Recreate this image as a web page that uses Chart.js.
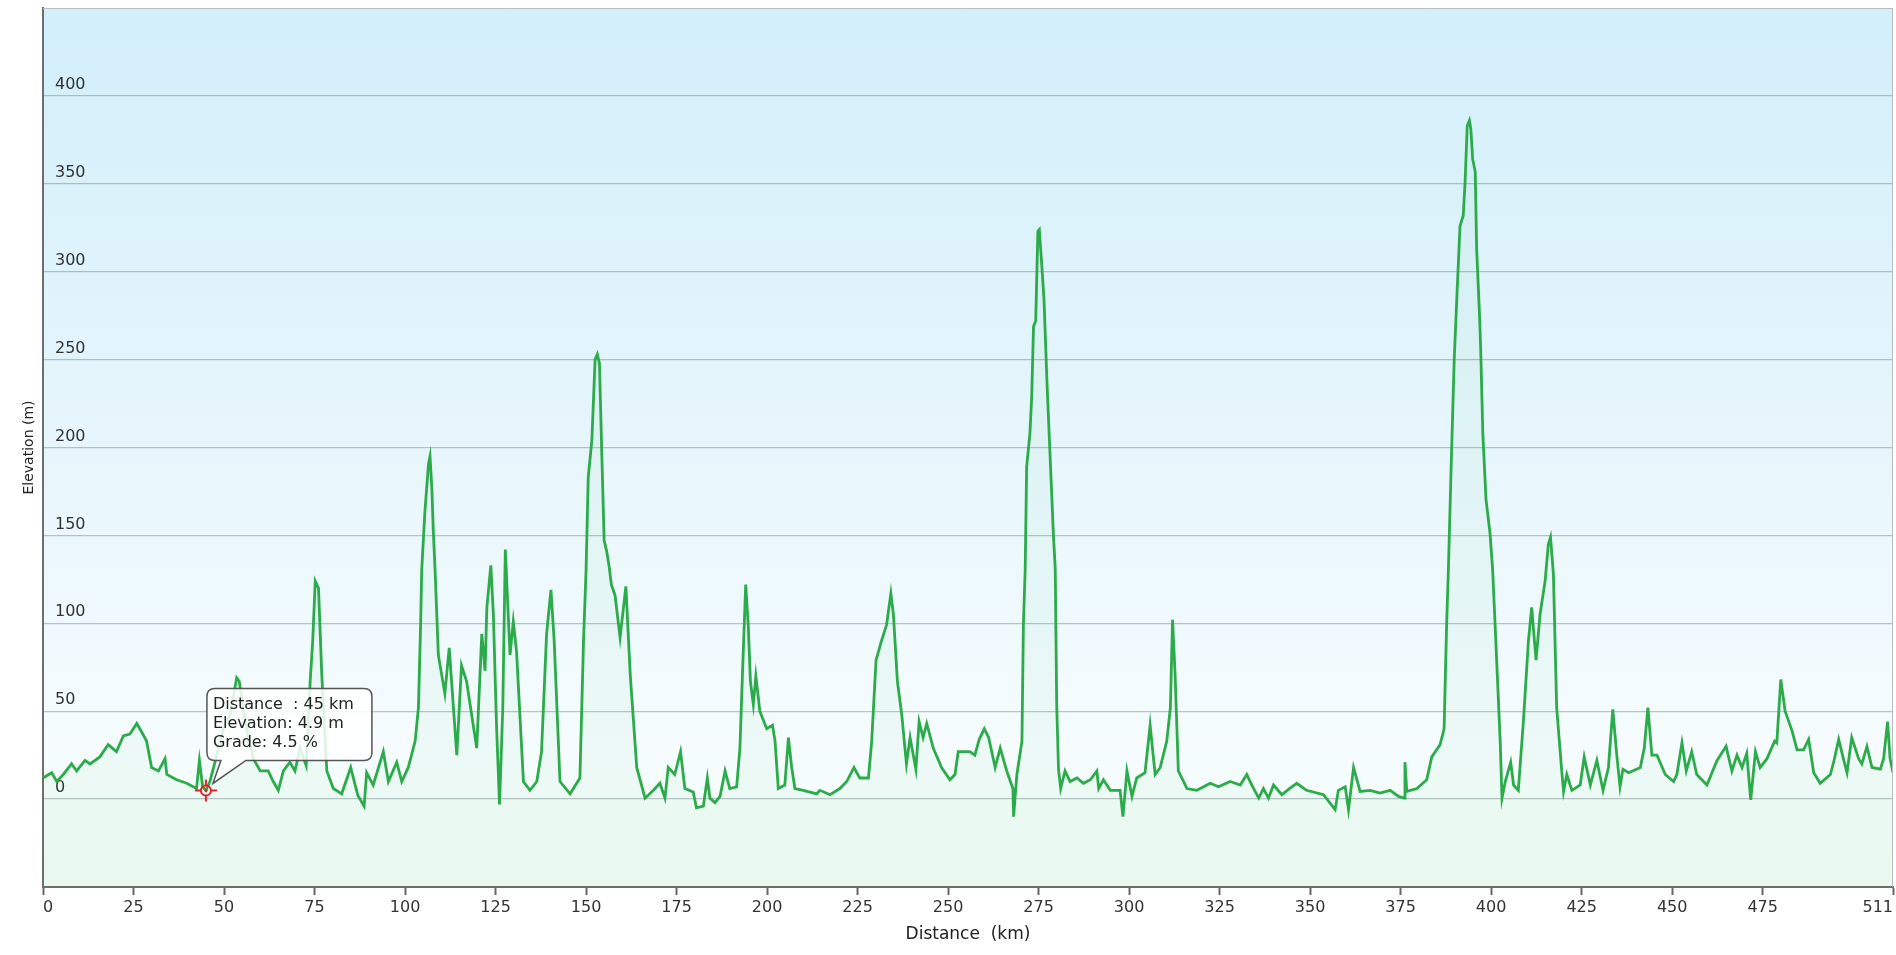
<!DOCTYPE html>
<html>
<head>
<meta charset="utf-8">
<title>Elevation profile</title>
<script src="https://cdn.jsdelivr.net/npm/chart.js@4.4.1/dist/chart.umd.min.js"></script>
<style>
  html, body { margin: 0; padding: 0; background: #fff; }
  canvas { display: block; }
</style>
</head>
<body>
<canvas id="profile" width="1896" height="955"></canvas>
<script>
// distance along the route (km) and elevation (m)
var distanceKm = [
  0, 2.4, 3.8, 5.6, 7.9, 9.3, 11.6, 13, 15.7, 18, 20.3, 22.2, 24, 25.9, 27.3, 28.6, 30, 31.9, 33.7, 34.2,
  36.9, 39.7, 42.4, 43.2, 44.1, 45, 46.1, 48, 49.8, 51.7, 53.5, 54.2, 56.3, 58.1, 60, 62.2, 63.6, 65, 66.4, 68.2,
  69.6, 71, 72.7, 73.8, 74.5, 75.2, 76.1, 77, 78.4, 80.2, 82.5, 85, 86.6, 87, 88.7, 89.4, 91.2, 94, 95.4, 97.7,
  99.1, 100.9, 102.8, 103.7, 104.3, 104.6, 105.5, 106.5, 106.9, 107.4, 107.8, 108.3, 109.2, 111, 112.2, 114.3, 115.6, 117, 118.4, 119.8,
  121.2, 122.1, 122.6, 123.7, 124.4, 125.3, 126.1, 127, 127.7, 129, 129.9, 130.8, 132.7, 134.5, 136.4, 137.7, 139.1, 140.3, 141.2, 142.8,
  145.6, 148.3, 149.3, 150, 150.6, 151.6, 152.5, 153.1, 153.7, 154.3, 155, 155.7, 156.4, 157, 158, 159.4, 161, 162.2, 164, 166.3,
  168.6, 170.4, 171.8, 172.7, 174.5, 176.1, 177.3, 179.6, 180.5, 182.4, 183.5, 184.2, 185.6, 187, 188.4, 189.7, 191.6, 192.5, 193.2, 194.1,
  194.8, 195.4, 196.2, 196.9, 198, 199.9, 201.5, 202.2, 203.1, 204.9, 205.9, 206.8, 207.7, 210, 213.7, 214.6, 217.4, 220.1, 222, 224,
  225.6, 228, 228.9, 230.1, 231.6, 233, 234.2, 234.9, 236, 237.2, 238.5, 239.5, 241.1, 242, 243.1, 244.1, 245.9, 248.2, 250.5, 251.9,
  252.8, 256, 257.4, 258.6, 260, 261.2, 263, 264.4, 266.2, 267.9, 268.1, 269, 270.4, 270.8, 271.3, 271.7, 272.6, 273.1, 273.6, 274.2,
  274.8, 275.2, 275.9, 276.5, 277.3, 278.2, 279.1, 279.6, 280, 280.5, 281.1, 282.3, 283.7, 285.6, 287.4, 289.3, 291.1, 291.6, 292.9, 294.8,
  297.5, 298.3, 299.4, 300.8, 302.1, 304.4, 305.8, 307.2, 308.6, 310.4, 311.4, 312, 312.7, 313.6, 316, 318.7, 320.6, 322.4, 324.7, 327.9,
  330.7, 332.5, 333.9, 335.8, 337.1, 338.5, 339.9, 342.2, 344.3, 346.3, 349, 353.7, 356.9, 357.8, 359.7, 360.6, 362, 363.8, 366.6, 369.3,
  372.1, 374.4, 376, 376.2, 376.7, 379.5, 382.2, 383.6, 385.9, 387, 387.7, 388.2, 389.1, 389.8, 390.5, 391.4, 392.3, 392.8, 393.4, 394,
  394.4, 394.9, 395.6, 396, 396.8, 397.1, 397.7, 398.6, 399.7, 400.4, 401.1, 402.5, 403, 403.9, 405.4, 406.2, 407.5, 408.9, 410.3, 411.2,
  412.4, 413.5, 414.9, 415.8, 416.4, 417.2, 418.1, 419.5, 420, 420.9, 422.3, 424.6, 425.7, 427.4, 429.2, 430.9, 432.4, 433.6, 434.7, 435.6,
  436.4, 438, 441.2, 442.3, 443.3, 444.4, 445.8, 448.1, 450.4, 451.3, 452.7, 453.9, 455.4, 456.8, 459.6, 462.4, 464.9, 466.5, 467.9, 469.3,
  470.6, 471.7, 473, 474.3, 476.2, 478.3, 478.9, 480, 481.2, 483.1, 484.5, 486.3, 487.7, 489.1, 490.9, 493.7, 494.6, 496, 497.3, 498.3,
  499.6, 501.5, 502.4, 503.8, 505.2, 507.5, 508.4, 509.5, 510.2, 511
];
var elevationM = [
  12, 15, 10, 14, 20, 16, 22, 20, 24, 31, 27, 36, 37, 43, 38, 33, 18, 16, 23, 14,
  11, 9, 6, 22, 7, 4.9, 10, 25, 40, 48, 69, 67, 39, 23, 16, 16, 10, 5, 16, 21,
  16, 29, 19, 67, 90, 124, 120, 71, 16, 6, 3, 18, 5, 2, -4, 15, 8, 27, 10, 21,
  10, 18, 33, 52, 99, 130, 164, 191, 195, 177, 153, 130, 82, 60, 86, 25, 76, 67, 48, 29,
  94, 73, 109, 133, 105, 40, -3, 52, 142, 82, 101, 84, 10, 5, 10, 27, 94, 119, 90, 10,
  3, 12, 90, 130, 183, 204, 250, 253, 248, 200, 147, 141, 132, 122, 116, 92, 121, 71, 18, 0.5,
  5, 9, 0.6, 18, 14, 27, 6, 4, -5, -4, 12, 0.6, -2, 1.5, 16, 6, 7, 29, 71, 122,
  99, 67, 54, 70, 50, 40, 42, 33, 6, 8, 35, 18, 6, 5, 3, 5, 2.5, 6, 10, 18,
  12, 12, 33, 79, 90, 99, 117, 105, 67, 48, 20, 35, 17, 44, 35, 43, 29, 18, 11, 14,
  27, 27, 25, 34, 40, 35, 18, 29, 16, 6, -10, 14, 33, 99, 131, 189, 208, 229, 269, 272,
  323, 324, 303, 284, 238, 194, 150, 131, 54, 17, 6, 16, 10, 12, 9, 11, 16, 6, 11, 5,
  5, -10, 16, 1.5, 12, 15, 42, 14, 18, 33, 52, 102, 71, 16, 6, 5, 7, 9, 7, 10,
  8, 14, 8, 0.6, 6, 0.6, 8, 2.5, 6, 9, 5, 2.5, -6, 5, 7, -6, 18, 4.4, 5, 3.4,
  5, 1.5, 0.6, 21, 4.4, 6, 11, 24, 31, 40, 99, 131, 200, 250, 284, 326, 332, 351, 383, 386,
  381, 364, 357, 313, 275, 257, 208, 170, 151, 131, 99, 33, 0.6, 10, 21, 8, 5, 44, 90, 109,
  79, 105, 124, 145, 149, 128, 52, 16, 4.4, 14, 5, 8, 24, 8, 22, 5, 18, 51, 25, 7,
  17, 15, 18, 29, 52, 25, 25, 14, 10, 14, 32, 16, 27, 14, 8, 22, 30, 16, 25, 18,
  26, -0.4, 27, 18, 23, 33, 32, 68, 50, 39, 28, 28, 34, 15, 9, 14, 21, 34, 23, 15,
  35, 23, 20, 30, 18, 17, 23, 44, 23, 15
];
var xTickValues = [0, 25, 50, 75, 100, 125, 150, 175, 200, 225, 250, 275, 300, 325, 350, 375, 400, 425, 450, 475, 511];
var yTickValues = [0, 50, 100, 150, 200, 250, 300, 350, 400];

// the point picked on the profile
var markerDistance = 45;
var markerElevation = 4.9;
var markerGrade = 4.5;

var FONT = '"DejaVu Sans", Verdana, sans-serif';

var profileDecor = {
  id: 'profileDecor',
  beforeDraw: function(chart) {
    var a = chart.chartArea, ctx = chart.ctx;
    var g = ctx.createLinearGradient(0, a.top, 0, a.bottom);
    g.addColorStop(0, '#d2effa');
    g.addColorStop(0.5, '#e7f6fc');
    g.addColorStop(0.85, '#f6fcfe');
    g.addColorStop(1, '#f2fcf5');
    ctx.save();
    ctx.fillStyle = g;
    ctx.fillRect(a.left, a.top, a.right - a.left, a.bottom - a.top);
    ctx.restore();
  },
  afterDraw: function(chart) {
    var a = chart.chartArea, ctx = chart.ctx;
    ctx.save();
    // thin frame on top and right
    ctx.strokeStyle = '#b9bdbf';
    ctx.lineWidth = 1;
    ctx.beginPath();
    ctx.moveTo(a.left, a.top + 0.5);
    ctx.lineTo(a.right - 0.5, a.top + 0.5);
    ctx.lineTo(a.right - 0.5, a.bottom);
    ctx.stroke();

    var mx = chart.scales.x.getPixelForValue(markerDistance);
    var my = chart.scales.y.getPixelForValue(markerElevation);

    // callout box
    var bx = mx + 1, by = my - 102, bw = 165, bh = 72, r = 8;
    ctx.beginPath();
    ctx.moveTo(bx + r, by);
    ctx.lineTo(bx + bw - r, by);
    ctx.quadraticCurveTo(bx + bw, by, bx + bw, by + r);
    ctx.lineTo(bx + bw, by + bh - r);
    ctx.quadraticCurveTo(bx + bw, by + bh, bx + bw - r, by + bh);
    ctx.lineTo(mx + 40, by + bh);
    ctx.lineTo(mx + 7, my - 7);
    ctx.lineTo(mx + 15, by + bh);
    ctx.lineTo(bx + r, by + bh);
    ctx.quadraticCurveTo(bx, by + bh, bx, by + bh - r);
    ctx.lineTo(bx, by + r);
    ctx.quadraticCurveTo(bx, by, bx + r, by);
    ctx.closePath();
    ctx.fillStyle = 'rgba(255,255,255,0.85)';
    ctx.fill();
    ctx.strokeStyle = '#555';
    ctx.lineWidth = 1.5;
    ctx.stroke();

    ctx.fillStyle = '#222';
    ctx.font = '16px ' + FONT;
    ctx.textBaseline = 'middle';
    ctx.textAlign = 'left';
    ctx.fillText('Distance  : ' + markerDistance + ' km', mx + 7, my - 86);
    ctx.fillText('Elevation: ' + markerElevation + ' m', mx + 7, my - 67);
    ctx.fillText('Grade: ' + markerGrade + ' %', mx + 7, my - 48);

    // crosshair marker
    ctx.strokeStyle = '#e8202a';
    ctx.fillStyle = '#e8202a';
    ctx.lineWidth = 2;
    ctx.beginPath();
    ctx.arc(mx, my, 5, 0, Math.PI * 2);
    ctx.stroke();
    ctx.beginPath();
    ctx.arc(mx, my, 1.5, 0, Math.PI * 2);
    ctx.fill();
    ctx.beginPath();
    ctx.moveTo(mx - 11, my); ctx.lineTo(mx - 5, my);
    ctx.moveTo(mx + 5, my); ctx.lineTo(mx + 11, my);
    ctx.moveTo(mx, my - 11); ctx.lineTo(mx, my - 5);
    ctx.moveTo(mx, my + 5); ctx.lineTo(mx, my + 11);
    ctx.stroke();
    ctx.restore();
  }
};

new Chart('profile', {
  type: 'line',
  data: {
    datasets: [{
      label: 'Elevation',
      data: distanceKm.map(function(d, i) { return { x: d, y: elevationM[i] }; }),
      borderColor: '#2cab4b',
      borderWidth: 2.8,
      backgroundColor: 'rgba(70, 200, 110, 0.05)',
      fill: 'start',
      pointRadius: 0,
      tension: 0
    }]
  },
  options: {
    responsive: false,
    devicePixelRatio: 1,
    animation: false,
    layout: { padding: { top: 8, right: 3, left: 0, bottom: 0 } },
    plugins: {
      legend: { display: false },
      tooltip: { enabled: false }
    },
    scales: {
      x: {
        type: 'linear',
        min: 0,
        max: 511,
        afterBuildTicks: function(scale) {
          scale.ticks = xTickValues.map(function(v) { return { value: v }; });
        },
        afterFit: function(scale) {
          scale.height = 68;
          scale.paddingLeft = 0;
          scale.paddingRight = 0;
        },
        grid: { drawOnChartArea: false, drawTicks: true, tickLength: 8, tickColor: '#666', tickWidth: 2 },
        border: { display: true, color: '#6e6e6e', width: 2 },
        ticks: {
          align: 'inner',
          padding: 3,
          maxRotation: 0,
          autoSkip: false,
          color: '#333',
          font: { family: FONT, size: 16 }
        },
        title: {
          display: true,
          text: 'Distance  (km)',
          color: '#222',
          font: { family: FONT, size: 17 },
          padding: { top: 0, bottom: 10 }
        }
      },
      y: {
        min: -50,
        max: 450,
        afterFit: function(scale) {
          scale.width = 43;
          scale.paddingTop = 0;
          scale.paddingBottom = 0;
        },
        grid: {
          drawTicks: false,
          lineWidth: 1.3,
          color: function(ctx) {
            return yTickValues.indexOf(ctx.tick.value) >= 0 ? 'rgba(110,125,132,0.45)' : 'rgba(0,0,0,0)';
          }
        },
        border: { display: true, color: '#6e6e6e', width: 2 },
        ticks: {
          stepSize: 50,
          mirror: true,
          padding: 12,
          labelOffset: -11,
          color: '#333',
          font: { family: FONT, size: 16 },
          callback: function(v) { return yTickValues.indexOf(v) >= 0 ? String(v) : ''; }
        },
        title: {
          display: true,
          text: 'Elevation (m)',
          color: '#222',
          font: { family: FONT, size: 14 },
          padding: { top: 21, bottom: 0 }
        }
      }
    }
  },
  plugins: [profileDecor]
});
</script>
</body>
</html>
